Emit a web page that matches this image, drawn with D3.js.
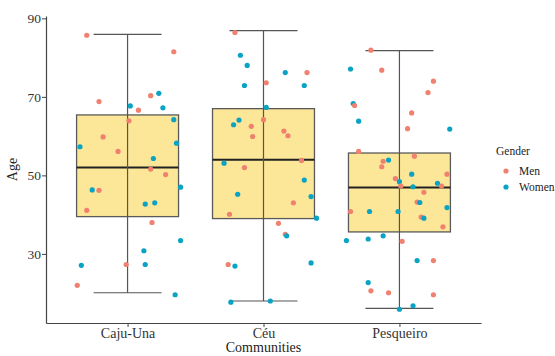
<!DOCTYPE html>
<html>
<head>
<meta charset="utf-8">
<script src="https://cdn.jsdelivr.net/npm/d3@7"></script>
<style>
  body { margin: 0; background: #fff; }
  svg text { font-family: "Liberation Serif", "DejaVu Serif", serif; fill: #222; }
</style>
</head>
<body>
<svg id="chart" width="555" height="356"></svg>
<script>
var communities = ["Caju-Una", "Céu", "Pesqueiro"];
var yTicks = [30, 50, 70, 90];

// box stats per community: lower whisker, q1, median, q3, upper whisker
var whiskerLow = [20.1, 18.0, 16.1];
var q1 = [39.5, 39.0, 35.6];
var median = [52.0, 54.0, 46.9];
var q3 = [65.4, 67.0, 55.7];
var whiskerHigh = [85.9, 86.9, 81.8];

// points: gender, jitter (fraction of category step), age
var cajuGender = ["M","M","M","W","M","W","W","M","W","M","M","W","W","M","W","M","M","W","W","M","W","W","M","M","W","W","W","M","W","M","W"];
var cajuJitter = [-0.30,0.34,-0.21,0.23,0.17,0.02,0.26,0.08,0.34,0.01,-0.18,-0.35,0.36,-0.07,0.19,0.17,0.28,0.39,-0.26,-0.21,0.13,0.20,-0.30,0.18,0.39,0.12,-0.34,-0.01,0.13,-0.37,0.35];
var cajuAge = [85.7,81.5,68.8,70.9,70.3,67.7,67.2,66.6,64.2,63.9,59.8,57.3,58.2,56.1,54.3,51.6,50.2,47.0,46.3,46.2,42.7,43.0,41.1,38.0,33.4,30.8,27.1,27.3,27.3,22.0,19.6];

var ceuGender = ["M","W","W","W","M","M","W","W","W","M","W","W","M","M","M","M","M","W","M","W","W","W","M","M","W","M","M","W","M","W","W","W","W"];
var ceuJitter = [-0.21,-0.17,-0.12,0.16,0.32,0.02,-0.14,0.30,0.02,0.00,-0.18,-0.22,-0.09,-0.08,0.15,0.18,0.28,-0.29,-0.14,0.30,-0.19,0.35,0.22,-0.25,0.39,0.11,0.16,0.17,-0.26,-0.21,0.35,-0.24,0.05];
var ceuAge = [86.4,80.6,78.0,76.2,76.2,73.6,72.9,72.9,67.3,64.2,64.1,62.9,62.5,59.9,61.3,60.1,53.8,53.1,52.0,48.8,45.2,44.6,43.0,40.1,39.1,37.8,35.0,34.6,27.3,26.9,27.7,17.7,18.0];

var pesqGender = ["M","W","M","M","M","W","M","M","W","M","W","M","M","W","M","M","W","M","M","W","M","W","W","M","M","M","W","W","M","W","W","M","W","M","W","W","W","M","W","M","W","M","M","M","W","W"];
var pesqJitter = [-0.21,-0.36,-0.13,0.25,0.21,-0.34,-0.33,0.09,-0.30,0.06,0.37,-0.30,0.11,-0.08,-0.12,-0.13,0.09,0.35,-0.03,0.00,0.01,0.10,0.28,0.31,0.18,0.13,0.15,0.35,-0.36,-0.22,-0.01,0.16,0.18,0.32,-0.39,-0.23,-0.12,0.02,0.13,0.25,-0.23,-0.21,-0.08,0.25,0.10,0.00];
var pesqAge = [81.9,77.1,76.8,74.0,71.1,68.3,67.8,65.9,63.8,61.9,61.8,56.1,54.9,53.9,53.6,52.2,50.3,50.3,49.2,48.4,47.3,47.1,48.0,47.3,45.7,43.2,43.1,41.8,40.8,40.8,40.8,39.4,39.1,36.9,33.4,33.8,34.6,33.2,28.3,28.3,22.7,20.6,20.1,19.6,16.8,15.9];

var genders = ["Men", "Women"];
var genderColor = { M: "#F0806F", W: "#0AA3C4" };

var svg = d3.select("#chart"),
    margin = { top: 16, right: 74, bottom: 33, left: 46 },
    width = +svg.attr("width"),
    height = +svg.attr("height");

var x = d3.scalePoint()
    .domain(communities)
    .range([margin.left, width - margin.right])
    .padding(0.6);
var step = x.step();

var y = d3.scaleLinear()
    .domain([12.4, 90.6])
    .range([height - margin.bottom, margin.top]);

var boxW = step * 0.75, capW = step * 0.5;

// boxes
var boxes = communities.map(function (c, i) {
    return { c: c, lo: whiskerLow[i], q1: q1[i], med: median[i], q3: q3[i], hi: whiskerHigh[i] };
});

var gBox = svg.append("g");
gBox.selectAll("rect")
    .data(boxes)
    .enter().append("rect")
    .attr("x", function (d) { return x(d.c) - boxW / 2; })
    .attr("y", function (d) { return y(d.q3); })
    .attr("width", boxW)
    .attr("height", function (d) { return y(d.q1) - y(d.q3); })
    .attr("fill", "#FCE697")
    .attr("stroke", "#5a5a5a")
    .attr("stroke-width", 1.3);

gBox.selectAll("line.med")
    .data(boxes)
    .enter().append("line")
    .attr("class", "med")
    .attr("x1", function (d) { return x(d.c) - boxW / 2; })
    .attr("x2", function (d) { return x(d.c) + boxW / 2; })
    .attr("y1", function (d) { return y(d.med); })
    .attr("y2", function (d) { return y(d.med); })
    .attr("stroke", "#222")
    .attr("stroke-width", 2);

// error bars
var gErr = svg.append("g").attr("stroke", "#555").attr("stroke-width", 1.2);
gErr.selectAll("line.v")
    .data(boxes)
    .enter().append("line")
    .attr("x1", function (d) { return x(d.c); })
    .attr("x2", function (d) { return x(d.c); })
    .attr("y1", function (d) { return y(d.lo); })
    .attr("y2", function (d) { return y(d.hi); });
["lo", "hi"].forEach(function (k) {
    gErr.selectAll("line.cap" + k)
        .data(boxes)
        .enter().append("line")
        .attr("x1", function (d) { return x(d.c) - capW / 2; })
        .attr("x2", function (d) { return x(d.c) + capW / 2; })
        .attr("y1", function (d) { return y(d[k]); })
        .attr("y2", function (d) { return y(d[k]); });
});

// points
var points = [];
[[cajuGender, cajuJitter, cajuAge], [ceuGender, ceuJitter, ceuAge], [pesqGender, pesqJitter, pesqAge]]
    .forEach(function (arr, i) {
        arr[2].forEach(function (a, j) {
            points.push({ c: communities[i], g: arr[0][j], j: arr[1][j], age: a });
        });
    });

svg.append("g")
    .selectAll("circle")
    .data(points)
    .enter().append("circle")
    .attr("cx", function (d) { return x(d.c) + d.j * step; })
    .attr("cy", function (d) { return y(d.age); })
    .attr("r", 2.6)
    .attr("fill", function (d) { return genderColor[d.g]; });

// axes
var yAxis = svg.append("g")
    .attr("transform", "translate(" + margin.left + ",0)")
    .call(d3.axisLeft(y).tickValues(yTicks).tickSize(4).tickSizeOuter(0));
var xAxis = svg.append("g")
    .attr("transform", "translate(0," + (height - margin.bottom) + ")")
    .call(d3.axisBottom(x).tickSize(4).tickSizeOuter(0));

[yAxis, xAxis].forEach(function (a) {
    a.attr("font-family", null);
    a.select(".domain").attr("stroke", "#444").attr("stroke-width", 1.2);
    a.selectAll(".tick line").attr("stroke", "#444");
    a.selectAll("text").style("fill", "#333");
});
yAxis.attr("font-size", 13.5).selectAll("text").attr("x", -5);
xAxis.attr("font-size", 14).selectAll("text").attr("y", 5);

svg.append("text")
    .attr("transform", "translate(17," + ((margin.top + height - margin.bottom) / 2) + ") rotate(-90)")
    .attr("text-anchor", "middle")
    .style("font-size", "14px")
    .text("Age");

svg.append("text")
    .attr("x", (margin.left + width - margin.right) / 2)
    .attr("y", 352)
    .attr("text-anchor", "middle")
    .style("font-size", "14px")
    .text("Communities");

// legend
var leg = svg.append("g").attr("transform", "translate(496,0)");
leg.append("text").attr("x", 0).attr("y", 155).style("font-size", "11.5px").text("Gender");
genders.forEach(function (g, i) {
    leg.append("circle")
        .attr("cx", 10)
        .attr("cy", 171 + i * 16)
        .attr("r", 2.6)
        .attr("fill", genderColor[g[0]]);
    leg.append("text")
        .attr("x", 23)
        .attr("y", 175 + i * 16)
        .style("font-size", "11.5px")
        .text(g);
});
</script>
</body>
</html>
